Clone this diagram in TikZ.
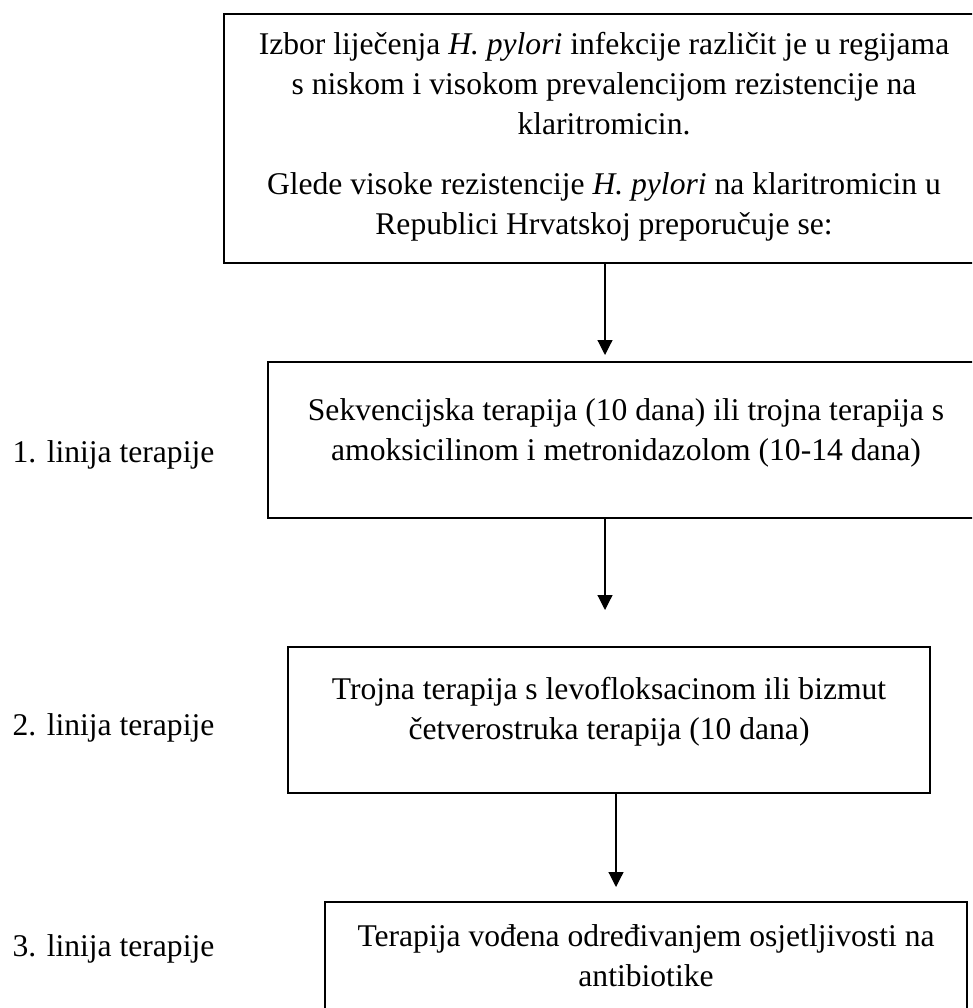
\documentclass[tikz,border=0pt]{standalone}
\usepackage{fontspec}
\setmainfont{Liberation Serif}
\usetikzlibrary{arrows.meta}
\tikzset{
  box/.style={draw, line width=2pt, inner sep=0pt},
  txt/.style={align=center, font=\fontsize{31.6}{40}\selectfont},
  lbl/.style={anchor=base west, font=\fontsize{31.6}{40}\selectfont},
  arr/.style={-{Triangle[width=15pt,length=15pt]}, line width=1.2pt}
}
\begin{document}
\begin{tikzpicture}[x=1pt,y=-1pt]
	\useasboundingbox (0,0) rectangle (972,1008);
	\clip (0,0) rectangle (972,1008);
	\node[box, minimum width=760pt, minimum height=249pt] (b1) at (604,138.5) {};
	\node[txt] (t1) at (604,137) {Izbor liječenja \textit{H. pylori} infekcije različit je u regijama\\
		s niskom i visokom prevalencijom rezistencije na\\ klaritromicin.\\[20pt]
		Glede visoke rezistencije \textit{H. pylori} na klaritromicin u\\ Republici Hrvatskoj preporučuje se:};
	\node[box, minimum width=716pt, minimum height=156pt] (b2) at (626,440) {};
	\node[txt] (t2) at (626,433) {Sekvencijska terapija (10 dana) ili trojna terapija s\\
		amoksicilinom i metronidazolom (10-14 dana)};
	\node[box, minimum width=642pt, minimum height=146pt] (b3) at (609,720) {};
	\node[txt] (t3) at (609,712) {Trojna terapija s levofloksacinom ili bizmut\\
		četverostruka terapija (10 dana)};
	\node[box, minimum width=642pt, minimum height=146pt] (b4) at (646,975) {};
	\node[txt] (t4) at (646,956) {Terapija vođena određivanjem osjetljivosti na\\ antibiotike};
	\node[lbl] (l1) at (9,462) {1. linija terapije};
	\node[lbl] (l2) at (9,735) {2. linija terapije};
	\node[lbl] (l3) at (9,956) {3. linija terapije};
	\coordinate (e1) at (605,355);
	\coordinate (e2) at (605,610);
	\coordinate (e3) at (616,887);
	\draw[arr] (b1.south -| e1) -- (e1);
	\draw[arr] (b2.south -| e2) -- (e2);
	\draw[arr] (b3.south -| e3) -- (e3);
\end{tikzpicture}
\end{document}
